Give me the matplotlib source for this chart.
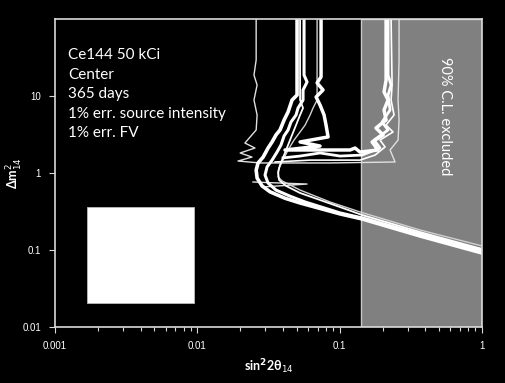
import matplotlib
matplotlib.use("Agg")
import matplotlib.pyplot as plt
from matplotlib.patches import Rectangle
from matplotlib.ticker import FixedLocator, NullFormatter, LogLocator

# --- data (sin^2 2theta_14 , dm^2_14) ---

# thick contour, outermost of the lower bundle
b_x = [0.0502, 0.0502, 0.0463, 0.0434, 0.0407, 0.0381, 0.0357, 0.0335, 0.0314, 0.0290,
       0.0267, 0.0259, 0.0263, 0.0285, 0.0324, 0.0413, 0.0527, 0.1007, 0.1437, 0.367, 1.0]
b_y = [100, 10.3, 8.87, 6.2, 4.88, 3.62, 3.12, 2.53, 2.11, 1.61,
       1.35, 1.09, 0.86, 0.68, 0.57, 0.47, 0.408, 0.294, 0.253, 0.152, 0.0914]

# second thick contour
d_x = [0.0562, 0.0562, 0.0590, 0.0553, 0.0553, 0.0510, 0.0494, 0.0455, 0.0434, 0.0407, 0.0387,
       0.0363, 0.0335, 0.0309, 0.0299, 0.0314, 0.0357, 0.0448, 0.0572, 0.1007, 0.1437, 0.367, 1.0]
d_y = [100, 18.7, 15.2, 11.97, 8.87, 6.98, 5.67, 4.59, 3.62, 3.03, 2.31,
       1.87, 1.47, 1.20, 0.94, 0.74, 0.60, 0.50, 0.42, 0.303, 0.261, 0.161, 0.100]

# thin contour inside the bundle
c_x = [0.0527, 0.0527, 0.0553, 0.0527, 0.0494, 0.0463, 0.0434, 0.0407, 0.0381, 0.0369,
       0.0375, 0.0420, 0.0527, 0.0728, 0.1007, 0.1437, 0.367, 1.0]
c_y = [100, 8.87, 6.98, 5.67, 4.20, 3.12, 2.31, 1.71, 1.27, 1.03,
       0.81, 0.68, 0.55, 0.446, 0.361, 0.285, 0.171, 0.103]

# thin grey contour, upper line of the lower bundle
e_x = [0.0694, 0.0694, 0.0650, 0.0620, 0.0572, 0.0527, 0.0478, 0.0434, 0.0400, 0.0375,
       0.0369, 0.0394, 0.0527, 0.0857, 0.139, 0.367, 1.0]
e_y = [100, 8.87, 6.98, 5.67, 4.20, 3.41, 2.68, 1.99, 1.47, 1.16,
       0.89, 0.79, 0.60, 0.42, 0.312, 0.182, 0.113]

# thin closed branch: left vertical, bottom at dm2 ~ 1.4, right vertical in excluded band
a_x = [0.0259, 0.0259, 0.0250, 0.0263, 0.0250, 0.0263, 0.0259, 0.0216, 0.0254, 0.0200, 0.0242,
       0.0193, 0.0276, 0.0857, 0.245, 0.226, 0.2572, 0.2614, 0.2572, 0.2614, 0.2614]
a_y = [100, 29.4, 18.7, 13.9, 8.87, 5.67, 3.62, 2.45, 2.11, 1.82, 1.61,
       1.43, 1.35, 1.35, 1.39, 1.99, 2.68, 4.88, 8.87, 29.4, 100]

# thick branch joining the two groups
u1_x = [0.0740, 0.0740, 0.0694, 0.0764, 0.0683, 0.0728, 0.0777, 0.0802, 0.0829, 0.0527, 0.0728,
        0.0413, 0.1183, 0.1283, 0.139, 0.186, 0.169, 0.202, 0.180, 0.2119, 0.205, 0.2188, 0.205,
        0.2119, 0.2119]
u1_y = [100, 17.7, 14.8, 11.97, 9.70, 7.64, 5.67, 4.20, 2.94, 2.53, 2.24,
        1.99, 1.99, 2.11, 1.87, 1.99, 2.53, 3.12, 3.84, 4.88, 6.58, 8.87, 11.3,
        16.1, 100]

u2_x = [0.0400, 0.0527, 0.0728, 0.1007, 0.1437, 0.192, 0.1746, 0.2188, 0.1986, 0.226, 0.2188,
        0.2297, 0.2188, 0.2188]
u2_y = [1.57, 1.66, 1.82, 1.66, 1.71, 2.11, 2.68, 3.62, 4.59, 6.58, 10.3,
        13.9, 18.7, 100]

u3_x = [0.0352, 0.0620, 0.139, 0.1774, 0.2084, 0.192, 0.2371, 0.2119, 0.241, 0.2297, 0.2335, 0.2297]
u3_y = [1.39, 1.47, 1.47, 1.71, 2.18, 2.68, 3.41, 4.20, 5.67, 8.87, 13.9, 100]

loop_x = [0.0246, 0.0590, 0.0285]
loop_y = [0.764, 0.719, 0.658]

excl_x = [0.141, 1.0]              # 90% C.L. excluded band
box_x = [0.00168, 0.0095]          # blank legend box
box_y = [0.0205, 0.36]

xticks = [0.001, 0.01, 0.1, 1]
xlabels = ["0.001", "0.01", "0.1", "1"]
yticks = [0.01, 0.1, 1, 10]
ylabels = ["0.01", "0.1", "1", "10"]

info = "Ce144 50 kCi\nCenter\n365 days\n1% err. source intensity\n1% err. FV"

# --- figure ---
fig = plt.figure(figsize=(5.06, 3.83), dpi=100, facecolor="black")
ax = fig.add_axes([55 / 506, 1 - 327 / 383, 427 / 506, 308 / 383], facecolor="black")
ax.set_xscale("log"); ax.set_yscale("log")
ax.set_xlim(0.001, 1); ax.set_ylim(0.01, 100)

ax.add_patch(Rectangle((excl_x[0], 0.01), excl_x[1] - excl_x[0], 100,
                       facecolor="#808080", edgecolor="#c8c8c8", lw=1, zorder=1))
ax.add_patch(Rectangle((box_x[0], box_y[0]), box_x[1] - box_x[0], box_y[1] - box_y[0],
                       facecolor="white", edgecolor="#bbbbbb", lw=0.6, zorder=2))

ax.plot(a_x, a_y, color="#e0e0e0", lw=1.0, zorder=3)
ax.plot(e_x, e_y, color="#d0d0d0", lw=1.0, zorder=3)
ax.plot(loop_x, loop_y, color="#e0e0e0", lw=1.0, zorder=3)
ax.plot(u3_x, u3_y, color="white", lw=1.2, zorder=3)
ax.plot(c_x, c_y, color="white", lw=1.3, zorder=3)
ax.plot(u2_x, u2_y, color="white", lw=2.0, zorder=4)
ax.plot(d_x, d_y, color="white", lw=2.2, zorder=4)
ax.plot(u1_x, u1_y, color="white", lw=2.5, zorder=4)
ax.plot(b_x, b_y, color="white", lw=2.6, zorder=4)

for s in ax.spines.values():
    s.set_color("#d9d9d9"); s.set_linewidth(1.2); s.set_zorder(5)

ax.xaxis.set_major_locator(FixedLocator(xticks))
ax.set_xticklabels(xlabels)
ax.xaxis.set_minor_locator(LogLocator(base=10, subs=range(2, 10)))
ax.xaxis.set_minor_formatter(NullFormatter())
ax.yaxis.set_major_locator(FixedLocator(yticks))
ax.set_yticklabels(ylabels)
ax.yaxis.set_minor_locator(FixedLocator([]))
ax.tick_params(which="both", colors="#d9d9d9", labelcolor="white", labelsize=7,
               direction="out", width=0.8)
ax.tick_params(which="major", length=4, pad=6)
ax.tick_params(which="minor", length=3)
for lab in ax.get_xticklabels() + ax.get_yticklabels():
    lab.set_family("Liberation Sans")

ax.set_xlabel(r"sin$^{\mathbf{2}}$2θ$_{14}$", color="white", fontsize=9,
              fontweight="bold", family="Lato", va="center")
ax.xaxis.set_label_coords(0.5, -0.13)
ax.set_ylabel(r"Δm$^{2}_{14}$", color="white", fontsize=9, fontweight="bold",
              family="Lato", va="center")
ax.yaxis.set_label_coords(-0.094, 0.5)

ax.text(0.03, 0.905, info, transform=ax.transAxes, color="white", fontsize=11,
        family="Lato", va="top", ha="left", linespacing=1.5, zorder=6)
ax.text(0.913, 0.685, "90% C.L. excluded", transform=ax.transAxes, color="white",
        fontsize=10.5, family="Lato", rotation=-90, va="center", ha="center", zorder=6)

fig.savefig("out.png", dpi=100, facecolor="black")
